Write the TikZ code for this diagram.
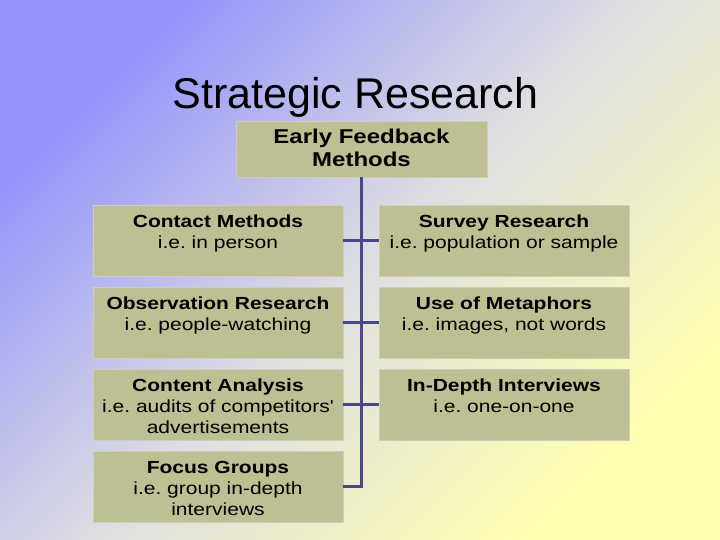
\documentclass[tikz,border=0pt]{standalone}
\usepackage{fontspec}
\setmainfont{Liberation Sans}
\newfontfamily\boxfont[FakeStretch=1.2,WordSpace={2.2}]{Liberation Sans}
\usetikzlibrary{positioning}
\definecolor{boxfill}{RGB}{190,191,146}
\definecolor{boxline}{RGB}{205,205,192}
\definecolor{trunk}{RGB}{72,72,140}
\definecolor{bgblue}{RGB}{148,148,252}
\definecolor{bgmid}{RGB}{222,222,226}
\definecolor{bgyellow}{RGB}{255,255,176}

\begin{document}
\begin{tikzpicture}[x=1pt,y=-1pt]
    \tikzstyle{method}=[draw=boxline, fill=boxfill, inner sep=0pt, minimum width=250pt, text width=250pt, align=center, text height=22pt, text depth=49pt, font=\boxfont\fontsize{17.5}{21}\selectfont\frenchspacing, node distance=82pt, on grid]
    \tikzstyle{head}=[method, minimum width=251pt, text width=251pt, text height=23pt, text depth=33pt, font=\boxfont\fontsize{20}{23}\selectfont\frenchspacing]
    \tikzstyle{link}=[draw=trunk, line width=2.5pt]

    \shade[top color=bgblue, bottom color=bgyellow, middle color=bgmid, shading angle=45] (0,0) rectangle (720,540);
    \useasboundingbox (0,0) rectangle (720,540);

    \node[anchor=base, font=\fontsize{43}{50}\selectfont] (title) at (355.5,108.5) {Strategic Research};
    \node[head] (early) at (361.5,149) {\textbf{Early Feedback}\\\textbf{Methods}};

    % left column
    \node[method, below left=91.5pt and 143.5pt of early] (contact) {\textbf{Contact Methods}\\i.e. in person};
    \node[method, below=of contact] (observation) {\textbf{Observation Research}\\i.e. people-watching};
    \node[method, below=of observation] (content) {\textbf{Content Analysis}\\i.e. audits of competitors'\\advertisements};
    \node[method, below=of content] (focus) {\textbf{Focus Groups}\\i.e. group in-depth\\interviews};

    % right column
    \node[method, right=286pt of contact] (survey) {\textbf{Survey Research}\\i.e. population or sample};
    \node[method, below=of survey] (metaphors) {\textbf{Use of Metaphors}\\i.e. images, not words};
    \node[method, below=of metaphors] (interviews) {\textbf{In-Depth Interviews}\\i.e. one-on-one};

    \draw[link] (early.south) |- (focus.east);
    \draw[link] (contact.east) -- (survey.west);
    \draw[link] (observation.east) -- (metaphors.west);
    \draw[link] (content.east) -- (interviews.west);
\end{tikzpicture}
\end{document}
